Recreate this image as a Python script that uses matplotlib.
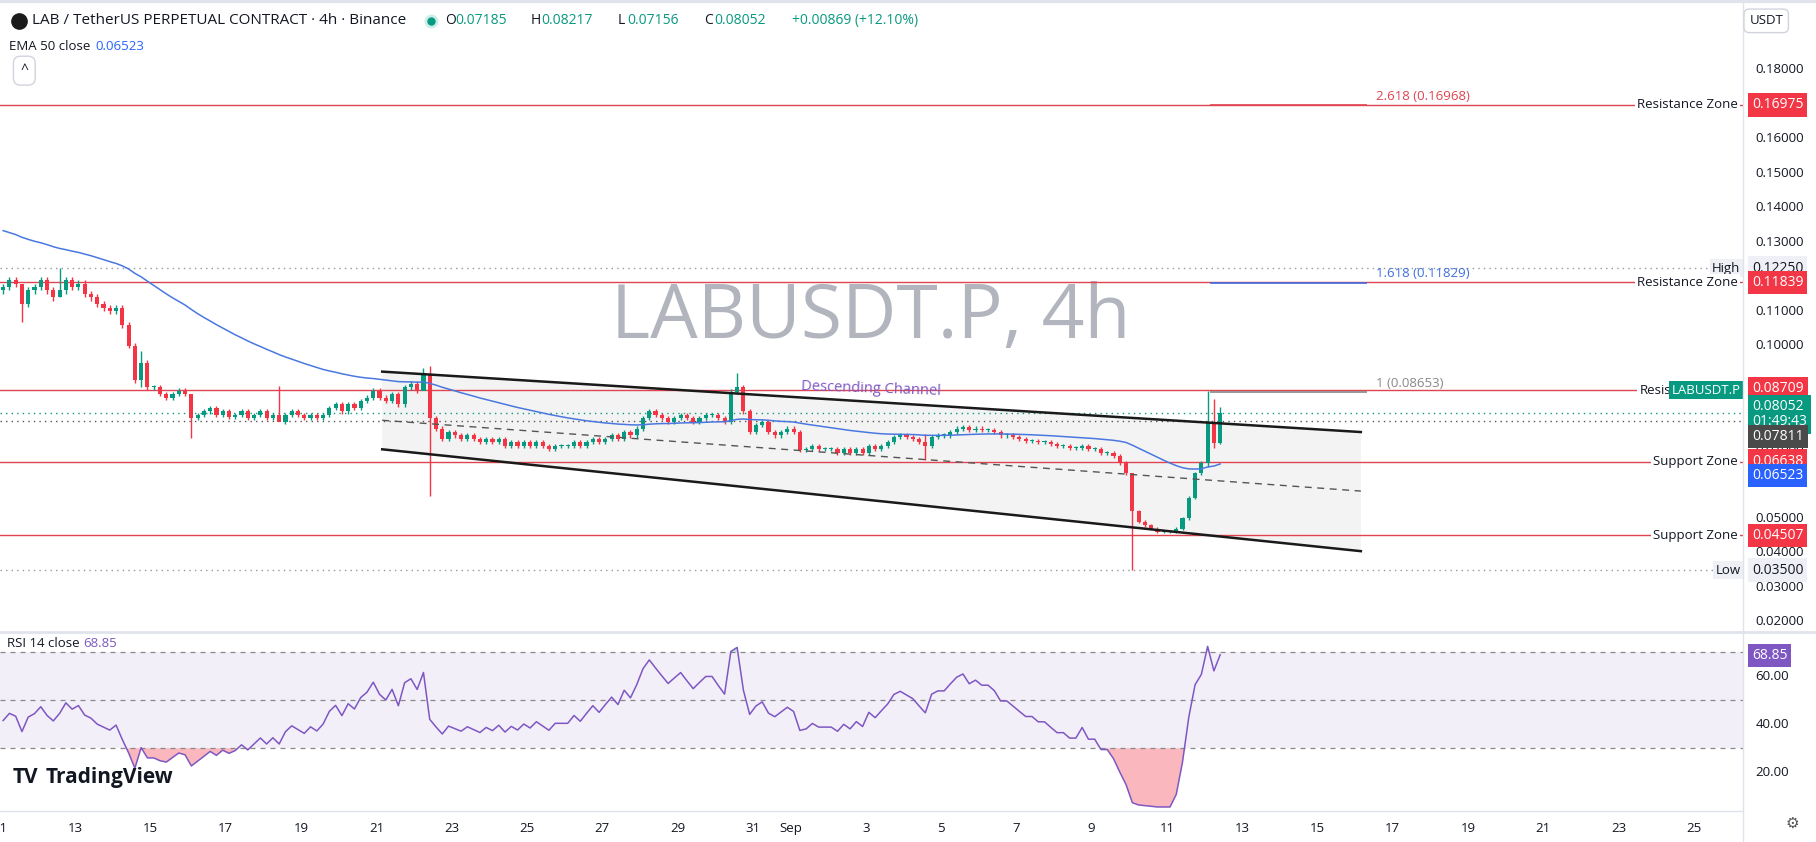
import numpy as np
import matplotlib
matplotlib.use("Agg")
import matplotlib.pyplot as plt
from matplotlib.lines import Line2D
from matplotlib.patches import Polygon

plt.rcParams['font.family'] = ['Open Sans', 'DejaVu Sans']

GREEN = '#089981'
RED = '#f23645'
LINE_RED = '#e04451'
PURPLE = '#7e57c2'

# 4h closes, Aug 11 00:00 -> Sep 12 08:00 (6 candles per day)
closes = [
    0.117, 0.119, 0.118, 0.112, 0.116, 0.117,   # Aug 11
    0.119, 0.116, 0.114, 0.116, 0.119, 0.117,   # Aug 12
    0.118, 0.115, 0.114, 0.112, 0.111, 0.110,   # Aug 13
    0.111, 0.106, 0.100, 0.090, 0.095, 0.088,   # Aug 14
    0.088, 0.086, 0.085, 0.086, 0.087, 0.086,   # Aug 15
    0.079, 0.080, 0.081, 0.082, 0.080, 0.081,   # Aug 16
    0.0795, 0.080, 0.081, 0.079, 0.080, 0.081,  # Aug 17
    0.079, 0.080, 0.078, 0.080, 0.081, 0.080,   # Aug 18
    0.079, 0.080, 0.079, 0.080, 0.082, 0.083,   # Aug 19
    0.081, 0.083, 0.082, 0.084, 0.085, 0.087,   # Aug 20
    0.085, 0.084, 0.086, 0.083, 0.088, 0.089,   # Aug 21
    0.087, 0.0915, 0.079, 0.076, 0.073, 0.075,  # Aug 22
    0.074, 0.073, 0.074, 0.073, 0.072, 0.073,   # Aug 23
    0.072, 0.073, 0.071, 0.072, 0.071, 0.072,   # Aug 24
    0.071, 0.072, 0.071, 0.070, 0.071, 0.071,   # Aug 25
    0.071, 0.072, 0.071, 0.072, 0.073, 0.072,   # Aug 26
    0.073, 0.074, 0.073, 0.075, 0.074, 0.076,   # Aug 27
    0.079, 0.081, 0.080, 0.079, 0.078, 0.079,   # Aug 28
    0.080, 0.079, 0.078, 0.079, 0.080, 0.080,   # Aug 29
    0.079, 0.078, 0.0867, 0.088, 0.081, 0.075,  # Aug 30
    0.077, 0.078, 0.075, 0.074, 0.075, 0.076,   # Aug 31
    0.075, 0.0697, 0.070, 0.071, 0.070, 0.070,  # Sep 1
    0.070, 0.069, 0.070, 0.069, 0.070, 0.069,   # Sep 2
    0.071, 0.070, 0.071, 0.072, 0.0735, 0.074,  # Sep 3
    0.0735, 0.073, 0.072, 0.071, 0.0735, 0.074, # Sep 4
    0.074, 0.075, 0.076, 0.0765, 0.0755, 0.076, # Sep 5
    0.0755, 0.0755, 0.075, 0.074, 0.074, 0.0735,# Sep 6
    0.073, 0.0725, 0.0725, 0.072, 0.072, 0.0715,# Sep 7
    0.071, 0.071, 0.0705, 0.0705, 0.071, 0.070, # Sep 8
    0.070, 0.069, 0.069, 0.068, 0.066, 0.063,   # Sep 9
    0.052, 0.049, 0.048, 0.047, 0.046, 0.046,   # Sep 10
    0.046, 0.047, 0.050, 0.056, 0.063, 0.066,   # Sep 11
    0.078, 0.07185, 0.08052,                    # Sep 12
]
first_open = 0.116
# notable wicks: index -> (high, low)
wicks = {3: (0.118, 0.107), 9: (0.1225, 0.114), 22: (0.0985, 0.088), 30: (0.086, 0.0733),
         44: (0.0884, 0.079), 67: (0.0935, 0.088), 68: (0.094, 0.0565), 117: (0.092, 0.086),
         147: (0.0745, 0.067), 180: (0.063, 0.035), 192: (0.087, 0.065),
         193: (0.0845, 0.0705), 194: (0.08217, 0.07156)}

ema_seed = 0.134
zones = [(0.16975, 'Resistance Zone'), (0.11839, 'Resistance Zone'),
         (0.06638, 'Support Zone'), (0.04507, 'Support Zone')]
fibs = [(0.16968, '2.618 (0.16968)', LINE_RED), (0.11829, '1.618 (0.11829)', '#3f6ee0'),
        (0.08653, '1 (0.08653)', '#888888')]
price_ticks = [0.02, 0.03, 0.04, 0.05, 0.07, 0.10, 0.11, 0.13, 0.14, 0.15, 0.16, 0.18]
day_ticks = [0, 2, 4, 6, 8, 10, 12, 14, 16, 18, 20, 21, 23, 25, 27, 29, 31, 33, 35, 37, 39, 41, 43, 45]
day_labels = ['11', '13', '15', '17', '19', '21', '23', '25', '27', '29', '31', 'Sep', '3', '5',
              '7', '9', '11', '13', '15', '17', '19', '21', '23', '25']
rsi_ticks = [20, 40, 60]

# ---------------------------------------------------------------
W, H = 1568.0, 727.0   # layout frame, scaled to figure
fig = plt.figure(figsize=(18.16, 8.42), dpi=100)
fx = lambda x: x / W
fy = lambda y: 1 - y / H

plot_r = 1505
ax = fig.add_axes([0, fy(545), fx(plot_r), fy(5) - fy(545)])
ax_r = fig.add_axes([0, fy(700), fx(plot_r), fy(548) - fy(700)])
for a in (ax, ax_r):
    a.set_xlim(0, plot_r / 32.5)
    for s in a.spines.values():
        s.set_visible(False)
    a.set_yticks([])
ax.set_xticks([])
ax.set_ylim(0.02 - 8 / 2981, 0.18 + 55 / 2981)
ax_r.set_ylim(30 - 54 / 2.075, 70 + 15 / 2.075)

closes = np.array(closes)
opens = np.concatenate([[first_open], closes[:-1]])
n = len(closes)
xs = np.arange(n) / 6 + 1 / 12
for i in range(n):
    o, c = opens[i], closes[i]
    hi, lo = wicks.get(i, (max(o, c) * 1.008, min(o, c) * 0.992))
    col = GREEN if c >= o else RED
    ax.vlines(xs[i], lo, hi, color=col, lw=1, zorder=3)
    ax.bar(xs[i], max(abs(c - o), 0.0003), bottom=min(o, c), width=0.11, color=col, zorder=4)

# EMA 50
ema = []
e = ema_seed
for c in closes:
    e = e + (c - e) * 2 / 51
    ema.append(e)
ax.plot(xs, ema, color='#4a78e0', lw=1.1, zorder=5)

# RSI 14 (Wilder)
gain, loss = 0.0012, 0.0018
rsi = []
prev = first_open
for c in closes:
    d = c - prev
    gain = (gain * 13 + max(d, 0)) / 14
    loss = (loss * 13 + max(-d, 0)) / 14
    rsi.append(100 - 100 / (1 + gain / loss))
    prev = c
rsi = np.array(rsi)

# horizontal zones
ty = ax.get_yaxis_transform()
for p, lab in zones:
    ax.axhline(p, color=LINE_RED, lw=1, zorder=2)
    ax.text(0.997, p, lab, transform=ty, ha='right', va='center',
            fontsize=9.5, color='#131722', zorder=8,
            bbox=dict(fc='white', ec='none', pad=1.5))
ax.axhline(0.08709, color=LINE_RED, lw=1, zorder=2)
ax.text(0.9615, 0.08709, 'Resist', transform=ty, ha='right', va='center', fontsize=9.5,
        color='#131722', zorder=8, bbox=dict(fc='white', ec='none', pad=1.5))
for p, lab, col in fibs:
    ax.hlines(p, 1045 / 32.5, 1180 / 32.5, color=col, lw=1.2, zorder=2)
    ax.text(1188 / 32.5, p + 0.0025, lab, color=col, fontsize=9.5, va='center')
ax.axhline(0.1225, color='#9598a1', lw=1, ls=(0, (1, 3)))
ax.axhline(0.035, color='#9598a1', lw=1, ls=(0, (1, 3)))
ax.axhline(0.08052, color=GREEN, lw=1, ls=(0, (1, 3)))
ax.axhline(0.07811, color='#555555', lw=1, ls=(0, (1, 3)))

# descending channel
cx0, cx1 = 330 / 32.5, 1175 / 32.5
up, lowl, mid = (0.0925, 0.075), (0.070, 0.0405), (0.0784, 0.0579)
ax.add_patch(Polygon([(cx0, up[0]), (cx1, up[1]), (cx1, lowl[1]), (cx0, lowl[0])],
                     closed=True, fc='#ebebeb', ec='none', alpha=0.6, zorder=1))
ax.plot([cx0, cx1], up, color='#1a1a1a', lw=1.8, zorder=6)
ax.plot([cx0, cx1], lowl, color='#1a1a1a', lw=1.8, zorder=6)
ax.plot([cx0, cx1], mid, color='#555555', lw=1, ls=(0, (5, 4)), zorder=6)
ax.text(752 / 32.5, 0.0875, 'Descending Channel', color=PURPLE, fontsize=10.5,
        ha='center', va='center', rotation=-2)

ax.text(752 / 32.5, 0.108, 'LABUSDT.P, 4h', color='#b2b5be', fontsize=54,
        ha='center', va='center', zorder=0)

# right price axis
for p in price_ticks:
    ax.text(1.007, p, f'{p:.5f}', transform=ty, fontsize=9.5, color='#131722', va='center')

def tag(a, y, text, fc, tc='white', trans=None):
    a.text(1.005, y, text, transform=trans or a.get_yaxis_transform(), fontsize=10,
           color=tc, va='center', ha='left', zorder=9, linespacing=1.05,
           bbox=dict(fc=fc, ec='none', boxstyle='square,pad=0.3'))

tag(ax, 0.16975, '0.16975', RED)
tag(ax, 0.1225, '0.12250', '#eef0f5', '#131722')
tag(ax, 0.11839, '0.11839', RED)
tag(ax, 0.0876, '0.08709', RED)
tag(ax, 0.0802, '0.08052\n01:49:43', GREEN)
tag(ax, 0.0737, '0.07811', '#4a4a4a')
tag(ax, 0.0666, '0.06638', RED)
tag(ax, 0.0625, '0.06523', '#2962ff')
tag(ax, 0.04507, '0.04507', RED)
tag(ax, 0.035, '0.03500', '#eef0f5', '#131722')
ax.text(0.9985, 0.1225, 'High', transform=ty, ha='right', va='center', fontsize=9.5,
        color='#131722', bbox=dict(fc='#eef0f5', ec='none', pad=1.8))
ax.text(0.9985, 0.035, 'Low', transform=ty, ha='right', va='center', fontsize=9.5,
        color='#131722', bbox=dict(fc='#eef0f5', ec='none', pad=1.8))
ax.text(0.9985, 0.08709, 'LABUSDT.P', transform=ty, ha='right', va='center', fontsize=9.5,
        color='white', zorder=9, bbox=dict(fc=GREEN, ec='none', pad=1.8))

# RSI panel
ax_r.axhspan(30, 70, color=PURPLE, alpha=0.09, lw=0)
for lvl in (70, 50, 30):
    ax_r.axhline(lvl, color='#888888', lw=0.9, ls=(0, (4, 4)))
ax_r.plot(xs, rsi, color=PURPLE, lw=1.1)
ax_r.fill_between(xs, rsi, 30, where=rsi < 30, color=RED, alpha=0.35, lw=0, interpolate=True)
ax_r.fill_between(xs, rsi, 70, where=rsi > 70, color=GREEN, alpha=0.25, lw=0, interpolate=True)
rt = ax_r.get_yaxis_transform()
for v in rsi_ticks:
    ax_r.text(1.007, v, f'{v:.2f}', transform=rt, fontsize=9.5, color='#131722', va='center')
tag(ax_r, 68.5, f'{rsi[-1]:.2f}', PURPLE, trans=rt)
ax_r.text(0.004, 0.93, 'RSI 14 close', transform=ax_r.transAxes, fontsize=9.5, color='#131722')
ax_r.text(0.048, 0.93, f'{rsi[-1]:.2f}', transform=ax_r.transAxes, fontsize=9.5, color=PURPLE)
ax_r.text(0.007, 0.16, 'TV', transform=ax_r.transAxes, fontsize=15, weight='bold', color='#131722')
ax_r.text(0.026, 0.16, 'TradingView', transform=ax_r.transAxes, fontsize=15, weight='bold',
          color='#131722')
ax_r.set_xticks(day_ticks)
ax_r.set_xticklabels(day_labels, fontsize=9.5, color='#131722')
ax_r.tick_params(axis='x', length=0, pad=8)

# header
fig.text(fx(28), fy(18), 'LAB / TetherUS PERPETUAL CONTRACT · 4h · Binance', fontsize=11,
         color='#131722', va='center')
fig.add_artist(Line2D([fx(16)], [fy(18)], marker='o', ms=11, color='#1b1b1b'))
fig.add_artist(Line2D([fx(372)], [fy(18)], marker='o', ms=9, color='#cdeee8'))
fig.add_artist(Line2D([fx(372)], [fy(18)], marker='o', ms=5, color=GREEN))
for x, letter, val in [(384, 'O', '0.07185'), (458, 'H', '0.08217'), (533, 'L', '0.07156'),
                       (608, 'C', '0.08052')]:
    fig.text(fx(x), fy(18), letter, fontsize=10, color='#131722', va='center')
    fig.text(fx(x + 9), fy(18), val, fontsize=10, color=GREEN, va='center')
fig.text(fx(684), fy(18), '+0.00869 (+12.10%)', fontsize=10, color=GREEN, va='center')
fig.text(fx(8), fy(40), 'EMA 50 close', fontsize=9.5, color='#131722', va='center')
fig.text(fx(82), fy(40), '0.06523', fontsize=9.5, color='#2962ff', va='center')
fig.text(fx(21), fy(61), '^', fontsize=10, color='#131722', ha='center', va='center',
         bbox=dict(fc='white', ec='#d1d4dc', boxstyle='round,pad=0.5'))
fig.text(fx(1525), fy(18), 'USDT', fontsize=9.5, color='#131722', ha='center', va='center',
         bbox=dict(fc='white', ec='#d1d4dc', boxstyle='round,pad=0.4'))
fig.text(fx(1548), fy(712), '⚙', fontsize=11, color='#555555', ha='center', va='center')

# separators
fig.add_artist(Line2D([fx(plot_r)] * 2, [0, 1], color='#e0e3eb', lw=1))
fig.add_artist(Line2D([0, 1], [fy(546)] * 2, color='#e0e3eb', lw=2))
fig.add_artist(Line2D([0, fx(plot_r)], [fy(700)] * 2, color='#e0e3eb', lw=1))
fig.add_artist(Line2D([0, 1], [fy(1)] * 2, color='#e0e3eb', lw=3))

fig.savefig('out.png', dpi=100)
